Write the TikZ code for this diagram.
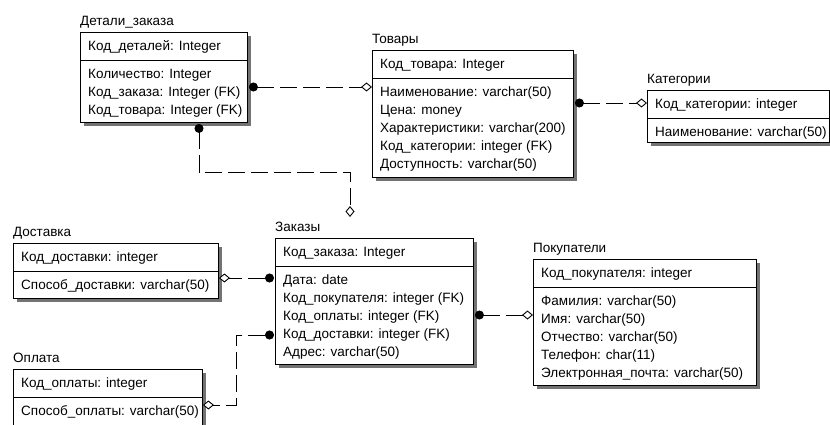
\documentclass[tikz,border=0pt]{standalone}
\usepackage{fontspec}
\setmainfont{Liberation Sans}
\usetikzlibrary{calc,shadows,arrows.meta}

\tikzset{
  ent/.style={draw=black, line width=0.9pt, fill=white, inner sep=0pt,
    anchor=north west,
    drop shadow={shadow xshift=4pt, shadow yshift=-4pt, fill=black!55, opacity=1}},
  txt/.style={inner sep=0pt, anchor=west, text height=9.7pt, text depth=0pt,
    font=\fontsize{13.5}{16}\selectfont},
  sep/.style={draw=black, line width=0.9pt},
  rel/.style={draw=black, line width=0.9pt, dash pattern=on 17pt off 6pt},
  many/.tip={Circle[length=9pt, width=9pt]},
  one/.tip={Diamond[length=11pt, width=9pt, fill=white, line width=0.9pt]},
}

% #1 name, #2 x, #3 y, #4 width, #5 height, #6 title, #7 key, #8 attributes
\newcommand{\erentity}[8]{%
  \node[ent, minimum width=#4pt, minimum height=#5pt] (#1) at (#2,#3) {};
  \node[txt] (#1-t) at ($(#1.north west)+(0,-11)$) {#6};
  \draw[sep] ($(#1.north west)+(0,28)$) -- ($(#1.north east)+(0,28)$);
  \node[txt] (#1-k) at ($(#1.north west)+(8,14)$) {#7};
  \foreach \a [count=\i] in {#8} {
    \node[txt] (#1-\i) at ($(#1.north west)+(8,{42+17.8*(\i-1)})$) {\a};
  }%
}

\begin{document}
\begin{tikzpicture}[x=1pt, y=-1pt]
  \useasboundingbox (0,0) rectangle (830,425);
  \clip (0,0) rectangle (830,425);

  % entities
  \erentity{det}{80}{32}{167}{90}{Детали\_заказа}{Код\_деталей: Integer}
    {Количество: Integer, Код\_заказа: Integer (FK), Код\_товара: Integer (FK)}
  \erentity{tov}{372}{50}{201}{127}{Товары}{Код\_товара: Integer}
    {Наименование: varchar(50), Цена: money, Характеристики: varchar(200),
     Код\_категории: integer (FK), Доступность: varchar(50)}
  \erentity{kat}{647}{90}{182}{52}{Категории}{Код\_категории: integer}
    {Наименование: varchar(50)}
  \erentity{dos}{13}{243}{205}{55}{Доставка}{Код\_доставки: integer}
    {Способ\_доставки: varchar(50)}
  \erentity{zak}{275}{238}{198}{126}{Заказы}{Код\_заказа: Integer}
    {Дата: date, Код\_покупателя: integer (FK), Код\_оплаты: integer (FK),
     Код\_доставки: integer (FK), Адрес: varchar(50)}
  \erentity{pok}{533}{259}{223}{126}{Покупатели}{Код\_покупателя: integer}
    {Фамилия: varchar(50), Имя: varchar(50), Отчество: varchar(50),
     Телефон: char(11), Электронная\_почта: varchar(50)}
  \erentity{opl}{13}{369}{189}{70}{Оплата}{Код\_оплаты: integer}
    {Способ\_оплаты: varchar(50)}

  % relationships: filled circle on the child side, open diamond on the parent side
  \draw[rel, {many}-{one}] ($(det.north east)+(1,55)$) -- ($(tov.north west)+(0,37)$);
  \draw[rel, {many}-{one}] ($(tov.north east)+(1,53)$) -- ($(kat.north west)+(0,13)$);
  \coordinate (dz) at ($(zak.north west)+(75,-66)$);
  \draw[rel, {many}-{one}] ($(det.south west)+(119,1)$) |- (dz)
    -- ($(zak.north west)+(75,-21)$);
  \draw[rel, {many}-{one}] ($(zak.north west)+(-1,40)$) -- ($(dos.north east)+(0,35)$);
  \coordinate (oz) at ($(opl.north east)+(34,36)$);
  \draw[rel, {many}-{one}] ($(zak.north west)+(-1,97)$) -| (oz)
    -- ($(opl.north east)+(0,36)$);
  \draw[rel, {many}-{one}] ($(zak.north east)+(1,77)$) -- ($(pok.north west)+(0,56)$);
\end{tikzpicture}
\end{document}
